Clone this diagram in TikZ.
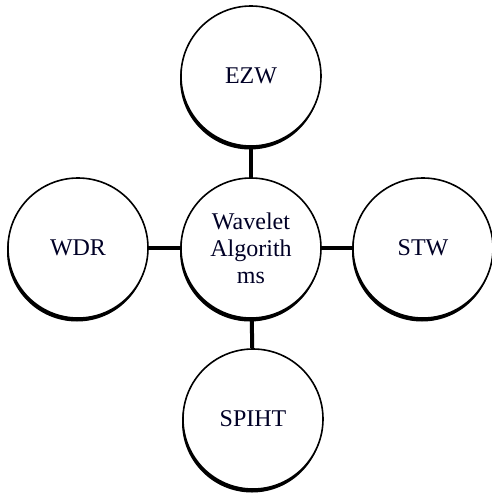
\documentclass[tikz,border=0pt]{standalone}
\usepackage{fontspec}
\setmainfont{Liberation Serif}
\usetikzlibrary{shadows}
\begin{document}
\begin{tikzpicture}[x=1pt,y=-1pt,
  bubble/.style={circle, draw=black, line width=1.6pt, fill=white,
    minimum size=140pt, inner sep=0pt, align=center,
    font=\fontsize{24}{27}\selectfont, text=black!85!blue,
    drop shadow={shadow xshift=-1pt, shadow yshift=-3.5pt, opacity=1, fill=black}},
  link/.style={line width=4pt, draw=black}]
\useasboundingbox (0,0) rectangle (492,493);
\node[bubble] (ezw) at (251,76) {EZW};
\node[bubble] (c) at (251,248) {Wavelet\\Algorith\\ms};
\node[bubble] (wdr) at (78,248) {WDR};
\node[bubble] (stw) at (423,248) {STW};
\node[bubble] (spiht) at (253,419) {SPIHT};
\draw[link] (ezw) -- (c);
\draw[link] (wdr) -- (c);
\draw[link] (stw) -- (c);
\draw[link] (spiht) -- (c);
\end{tikzpicture}
\end{document}
